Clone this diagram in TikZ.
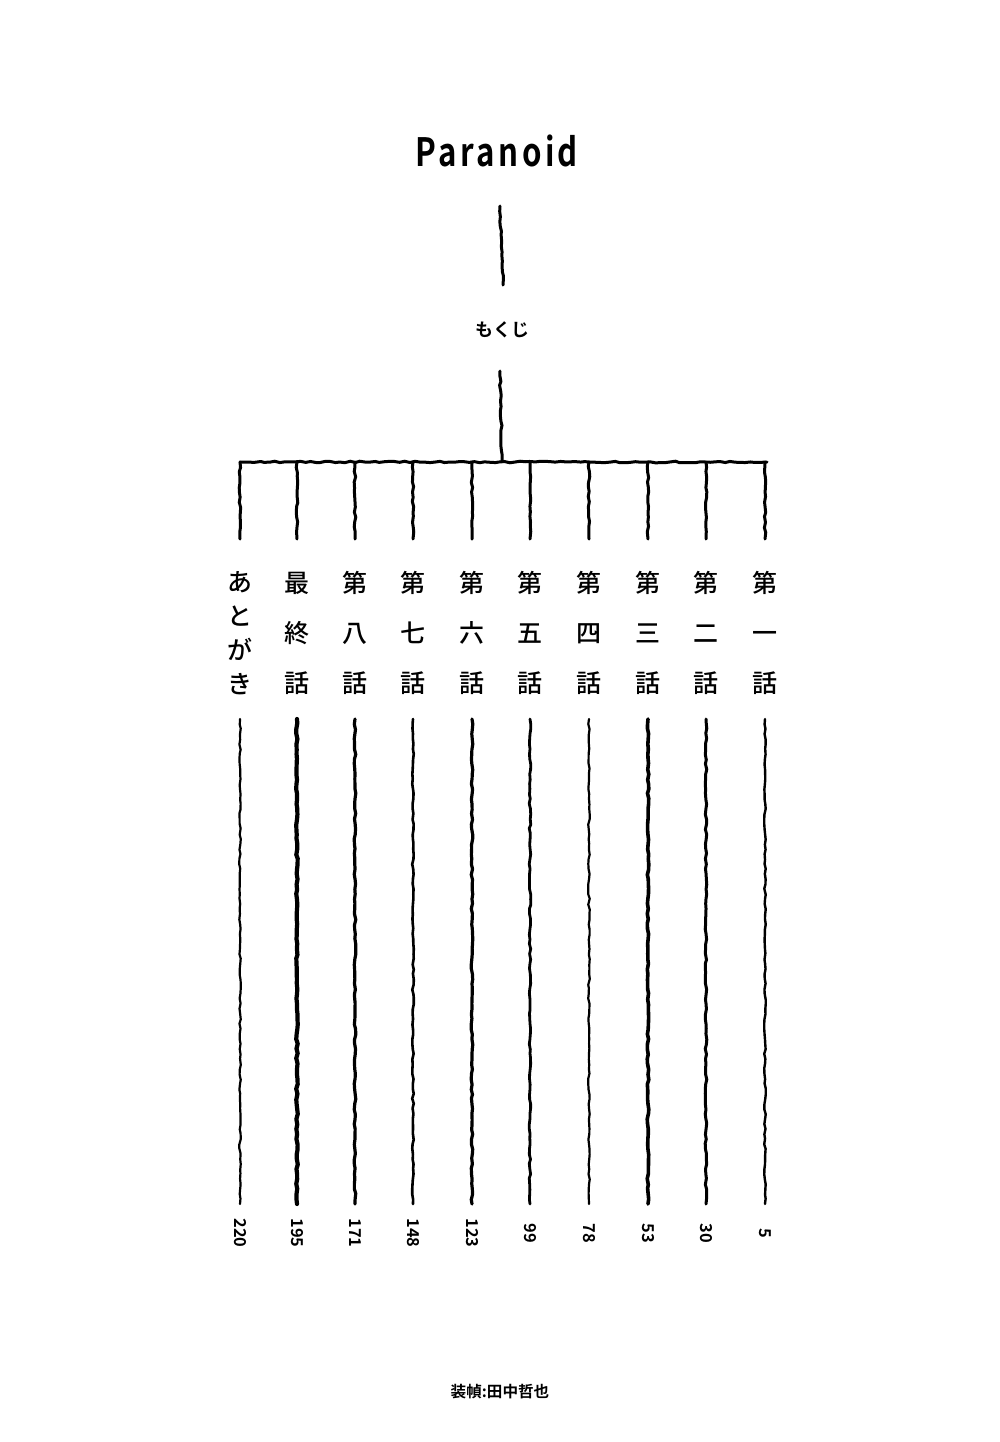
\documentclass[tikz,border=0pt]{standalone}
\usepackage{fontspec}
\usetikzlibrary{decorations.pathmorphing}
\newfontfamily\jp{Noto Sans CJK JP}[BoldFont={Noto Sans CJK JP Bold}]
\newfontfamily\jpmed{Noto Sans CJK JP Medium}
\newfontfamily\titlefont{Noto Sans CJK JP Bold}[LetterSpace=11]

\tikzset{
  rough/.style={line width=1.5pt, line cap=round, decorate,
    decoration={random steps, segment length=2.5pt, amplitude=0.4pt}},
  chapter/.style={font=\jpmed\fontsize{12.5}{#1}\selectfont, align=center, inner sep=0pt},
  pagenum/.style={font=\jp\bfseries\fontsize{8.2}{8}\selectfont, rotate=-90, inner sep=0pt},
}

\begin{document}
\begin{tikzpicture}[x=0.5pt,y=-0.5pt]
\useasboundingbox (0,0) rectangle (1000,1442);

% title and contents
\node[font=\titlefont\fontsize{19.5}{19}\selectfont, xscale=0.8, inner sep=0pt] (title) at (497,151) {Paranoid};
\coordinate (tt) at (500,206);
\coordinate (tb) at (503,285);
\node[font=\jp\bfseries\fontsize{9}{9}\selectfont, inner sep=0pt] (toc) at (502,330) {もくじ};
\coordinate (mt) at (500,371);
\coordinate (hub) at (502,462);
\draw[rough] (tt) -- (tb);
\draw[rough] (mt) -- (hub);

% branch line
\coordinate (bl) at (240,462);
\coordinate (br) at (767,462);
\draw[rough] (bl) -- (br);

% chapters
\foreach \i/\x/\lab/\sp/\pg/\w in {
    0/240/{あ\\と\\が\\き}/16.9/220/1.1pt,
    1/297/{最\\終\\話}/25/195/2.1pt,
    2/355/{第\\八\\話}/25/171/1.6pt,
    3/413/{第\\七\\話}/25/148/1.3pt,
    4/472/{第\\六\\話}/25/123/1.6pt,
    5/530/{第\\五\\話}/25/99/1.4pt,
    6/589/{第\\四\\話}/25/78/1.1pt,
    7/648/{第\\三\\話}/25/53/1.8pt,
    8/706/{第\\二\\話}/25/30/1.5pt,
    9/765/{第\\一\\話}/25/5/1.2pt}{
  \coordinate (s\i) at (\x,462);
  \coordinate (e\i) at (\x,539);
  \draw[rough] (s\i) -- (e\i);
  \node[chapter=\sp] (lab\i) at (\x,633) {\lab};
  \coordinate (lt\i) at (\x,719);
  \coordinate (lb\i) at (\x,1204);
  \draw[rough, line width=\w] (lt\i) -- (lb\i);
  \node[pagenum] (pg\i) at (\x,1233) {\pg};
}

% credit
\node[font=\jp\bfseries\fontsize{7.8}{8}\selectfont, inner sep=0pt] (credit) at (500,1392) {装幀:田中哲也};
\end{tikzpicture}
\end{document}
